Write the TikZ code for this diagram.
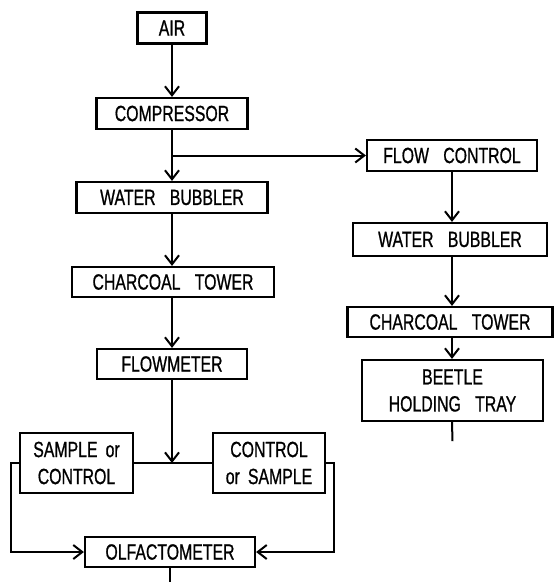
\documentclass[tikz,border=0pt]{standalone}
\usepackage{fontspec}
\setsansfont{Liberation Sans}[FakeStretch=0.72, FakeBold=0.8]
\usetikzlibrary{arrows.meta, positioning}

\tikzset{
  unit/.style={draw, line width=2.2pt, inner sep=2pt, align=center,
    font=\sffamily\fontsize{22}{27}\selectfont, minimum height=31pt},
  flow/.style={line width=2pt, -{Straight Barb[length=9pt, width=14pt]}},
  pipe/.style={line width=2pt}
}
\newcommand{\gap}{\hspace{0.65em}}

\begin{document}
\begin{tikzpicture}[x=1pt, y=-1pt]
\useasboundingbox (0,0) rectangle (555,582);

% ============================================================
% main line: air to olfactometer
% ============================================================
\node[unit, minimum width=69pt] (air) at (172,28) {AIR};
\node[unit, minimum width=151pt] (comp) at (172,113.5) {COMPRESSOR};
\node[unit, minimum width=191pt] (wbA) at (172,197.5) {WATER\gap BUBBLER};
\node[unit, minimum width=202pt, minimum height=30pt] (ctA) at (173,282) {CHARCOAL\gap TOWER};
\node[unit, minimum width=150pt, minimum height=30pt] (fm) at (172,364) {FLOWMETER};

\node[unit, minimum width=113pt, minimum height=60pt] (samp) at (76.5,463) {SAMPLE\, or\\CONTROL};
\node[unit, minimum width=112pt, minimum height=60pt] (ctrl) at (269,463) {CONTROL\\or\, SAMPLE};
\node[unit, minimum width=170pt, minimum height=30pt] (olf) at (170,552) {OLFACTOMETER};

% ============================================================
% side line: flow control to beetle tray
% ============================================================
\node[unit, minimum width=170pt] (fc) at (452,155.5) {FLOW\gap CONTROL};
\node[unit, minimum width=194pt, minimum height=33pt] (wbB) at (450,239.5) {WATER\gap BUBBLER};
\node[unit, minimum width=205pt, minimum height=30pt] (ctB) at (450,322) {CHARCOAL\gap TOWER};
\node[unit, minimum width=181pt, minimum height=61pt] (tray) at (452.5,390.5) {BEETLE\\HOLDING\gap TRAY};

% connectors
\coordinate (split) at (comp.south |- fc.west);
\coordinate (join) at (fm.south |- samp.east);
\coordinate (outA) at ([yshift=-17pt]olf.south);
\coordinate (outB) at ([yshift=-19pt]tray.south);

\draw[flow] (air.south) -- (air.south |- comp.north);
\draw[flow] (comp.south) -- (comp.south |- wbA.north);
\draw[flow] (wbA.south) -- (wbA.south |- ctA.north);
\draw[flow] (wbA.south |- ctA.south) -- (fm.north);
\draw[flow] (fm.south) -- (join);
\draw[flow] (split) -- (fc.west);
\draw[pipe] (samp.east) -- (ctrl.west);
\draw[flow] (samp.west) -- ++(-8,0) |- (olf.west);
\draw[flow] (ctrl.east) -- ++(8,0) |- (olf.east);
\draw[pipe] (olf.south) -- (outA);

\draw[flow] (fc.south) -- (fc.south |- wbB.north);
\draw[flow] (fc.south |- wbB.south) -- (fc.south |- ctB.north);
\draw[flow] (fc.south |- ctB.south) -- (fc.south |- tray.north);
\draw[pipe] (fc.south |- tray.south) -- (outB);
\end{tikzpicture}
\end{document}
